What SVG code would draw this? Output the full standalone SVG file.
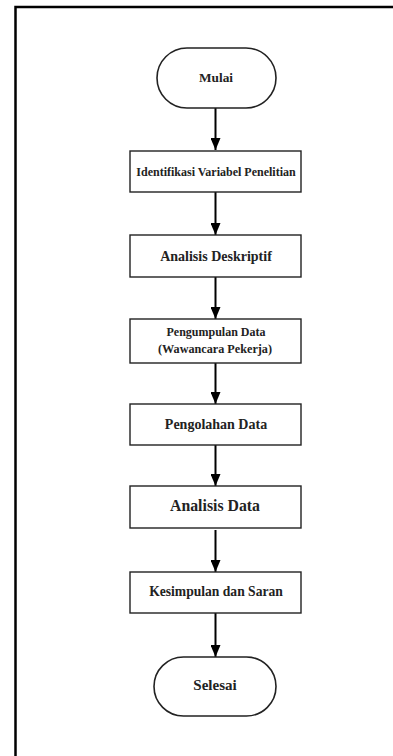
<svg xmlns="http://www.w3.org/2000/svg" width="393" height="756" viewBox="0 0 393 756">
<style>
.frame{stroke:#000;stroke-width:2.5;fill:none}
.box{fill:#fff;stroke:#222;stroke-width:1.4}
.term{fill:#fff;stroke:#222;stroke-width:1.6}
.conn{stroke:#000;stroke-width:2;fill:none}
text{font-family:"Liberation Serif","Times New Roman",serif;font-weight:bold;fill:#222;text-anchor:middle}
</style>
<defs>
<marker id="arr" markerUnits="userSpaceOnUse" markerWidth="12" markerHeight="10" refX="12" refY="5" orient="auto">
<path d="M0,0 L12,5 L0,10 Z" fill="#000"/>
</marker>
</defs>
<rect width="393" height="756" fill="#fff"/>
<g id="frame">
<path class="frame" d="M15.5,757 V7 H394"/>
</g>
<g id="connectors">
<line class="conn" x1="215.5" y1="108" x2="215.5" y2="150" marker-end="url(#arr)"/>
<line class="conn" x1="215.5" y1="192" x2="215.5" y2="235" marker-end="url(#arr)"/>
<line class="conn" x1="215.5" y1="277" x2="215.5" y2="319" marker-end="url(#arr)"/>
<line class="conn" x1="215.5" y1="363" x2="215.5" y2="404" marker-end="url(#arr)"/>
<line class="conn" x1="215.5" y1="445" x2="215.5" y2="486" marker-end="url(#arr)"/>
<line class="conn" x1="215.5" y1="530" x2="215.5" y2="572" marker-end="url(#arr)"/>
<line class="conn" x1="215.5" y1="613" x2="215.5" y2="657" marker-end="url(#arr)"/>
</g>
<g id="mulai">
<rect class="term" x="157" y="48" width="119" height="60" rx="30" ry="30"/>
<text x="216" y="82" font-size="13.3">Mulai</text>
</g>
<g id="identifikasi">
<rect class="box" x="130" y="151" width="171" height="41"/>
<text x="216" y="175.5" font-size="12">Identifikasi Variabel Penelitian</text>
</g>
<g id="deskriptif">
<rect class="box" x="130" y="235" width="171" height="42"/>
<text x="216" y="261" font-size="14">Analisis Deskriptif</text>
</g>
<g id="pengumpulan">
<rect class="box" x="130" y="319" width="171" height="44"/>
<text x="216" y="336" font-size="12">Pengumpulan Data</text>
<text x="215" y="353" font-size="12.2">(Wawancara Pekerja)</text>
</g>
<g id="pengolahan">
<rect class="box" x="130" y="404" width="171" height="41"/>
<text x="216" y="429" font-size="14">Pengolahan Data</text>
</g>
<g id="analisis">
<rect class="box" x="130" y="486" width="171" height="42"/>
<text x="215" y="511" font-size="15.8">Analisis Data</text>
</g>
<g id="kesimpulan">
<rect class="box" x="130" y="572" width="171" height="41"/>
<text x="216" y="596" font-size="13.6">Kesimpulan dan Saran</text>
</g>
<g id="selesai">
<rect class="term" x="154" y="657" width="122" height="59" rx="29.5" ry="29.5"/>
<text x="215" y="690" font-size="15">Selesai</text>
</g>
</svg>
